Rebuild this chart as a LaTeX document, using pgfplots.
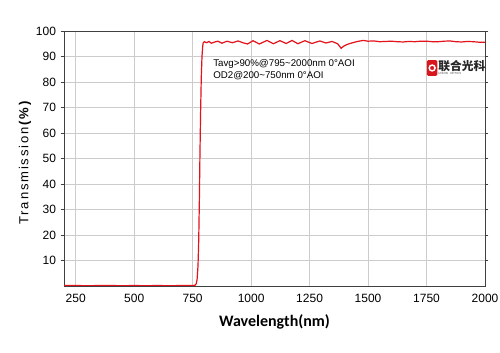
\documentclass[border=0pt]{standalone}
\usepackage{pgfplots}
\pgfplotsset{compat=1.18}
\usepackage{fontspec}
\setmainfont{Liberation Sans}
\newfontfamily\labfont{Carlito}
\newfontfamily\spacedfont[LetterSpace=14]{Liberation Sans}
\newfontfamily\cjk{Noto Sans CJK SC}
\definecolor{curvered}{HTML}{E3121B}
\definecolor{logored}{HTML}{D7161E}
\begin{document}
\begin{tikzpicture}
\path[use as bounding box, fill=white] (0,0) rectangle (375pt,264.75pt);
\begin{axis}[
  at={(48pt,50.25pt)}, anchor=south west,
  scale only axis, width=315.75pt, height=191.25pt,
  xmin=200, xmax=2000, ymin=0, ymax=100,
  xtick={250,500,750,1000,1250,1500,1750,2000},
  ytick={10,20,30,40,50,60,70,80,90,100},
  grid=major, grid style={draw=black!20, line width=0.6pt},
  axis line style={draw=black!75, line width=0.7pt},
  tick align=outside, major tick length=2.5pt,
  xtick style={draw=none},
  ytick style={draw=black!75},
  tick label style={font=\fontsize{9}{10}\selectfont},
  /pgf/number format/assume math mode=true,
  /pgf/number format/1000 sep={},
  xlabel={\labfont\bfseries\fontsize{12}{14}\selectfont Wavelength(nm)},
  ylabel={\fontsize{9.8}{11}\selectfont\spacedfont Transmission\textbf{(\%)}},
  xlabel style={at={(axis description cs:0.5,-0.141)}, anchor=center},
  ylabel style={at={(axis description cs:-0.0926,0.486)}, anchor=center},
  clip=true,
]
\addplot[curvered, line width=0.9pt] coordinates {
(200,0.2) (250,0.2) (300,0.1) (350,0.2) (400,0.2) (450,0.1) (500,0.2) (550,0.1) (600,0.2) (650,0.1) (700,0.2) (750,0.2) (760,0.3) (765,0.8) (769,2.5) (773,8) (776,18) (779,35) (781,50) (784,68) (787,82) (790,90) (793,94) (795,95.3) (800,95.8) (810,95.4) (820,95.9) (830,95.2) (845,95.7) (858,96.0) (875,95.2) (897,96.0) (920,95.4) (944,96.1) (965,95.4) (985,94.9) (1008,96.2) (1035,94.9) (1068,96.3) (1095,95.0) (1123,96.2) (1150,95.1) (1175,96.3) (1200,95.0) (1230,96.2) (1260,95.1) (1294,96.1) (1320,95.3) (1346,95.9) (1370,95.0) (1385,93.2) (1395,94.0) (1410,94.7) (1430,95.3) (1455,95.9) (1480,96.3) (1500,96.0) (1525,96.1) (1550,95.8) (1575,95.9) (1600,96.0) (1625,95.8) (1650,95.7) (1675,95.9) (1700,95.8) (1725,96.0) (1750,96.0) (1775,95.8) (1800,95.8) (1825,96.0) (1850,96.1) (1875,95.8) (1900,95.7) (1925,95.9) (1950,95.8) (1975,95.6) (2000,95.6)
};
\node[anchor=base west, font=\fontsize{7.3}{8.5}\selectfont, inner sep=0pt] at (axis cs:837,85.9) {Tavg>90\%@795\textasciitilde2000nm 0°AOI};
\node[anchor=base west, font=\fontsize{7.3}{8.5}\selectfont, inner sep=0pt] at (axis cs:837,81.3) {OD2@200\textasciitilde750nm 0°AOI};
% logo
\fill[logored, rounded corners=1pt] (axis cs:1752,82.4) rectangle (axis cs:1796,88.6);
\draw[white, line width=1.1pt] (axis cs:1774,85.5) circle (2.2pt);
\node[anchor=west, inner sep=0pt, font=\cjk\bfseries\fontsize{8.8}{9}\selectfont, text=black!85] at (axis cs:1800,86.4) {联合光科};
\node[anchor=west, inner sep=0pt, font=\fontsize{2.2}{2.5}\selectfont, text=black!70] at (axis cs:1800,83.2) {UNION \ \ OPTICS};
\end{axis}
\end{tikzpicture}
\end{document}
